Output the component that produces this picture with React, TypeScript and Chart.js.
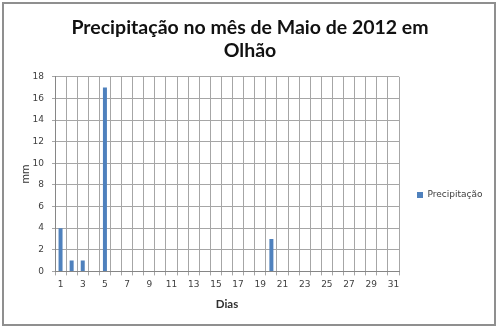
import React, { useEffect, useRef } from "react";
import { Chart, registerables } from "chart.js";

Chart.register(...registerables);

const days: string[] = Array.from({ length: 31 }, (_, i) => String(i + 1));
const precipitacao: number[] = [
  4, 1, 1, 0, 17, 0, 0, 0, 0, 0,
  0, 0, 0, 0, 0, 0, 0, 0, 0, 3,
  0, 0, 0, 0, 0, 0, 0, 0, 0, 0, 0,
];
const titleLines: string[] = ["Precipitação no mês de Maio de 2012 em", "Olhão"];
const seriesName = "Precipitação";
const yTitle = "mm";
const xTitle = "Dias";

const framePlugin = {
  id: "frame",
  beforeDraw(chart: any) {
    const { ctx, width, height } = chart;
    ctx.save();
    ctx.fillStyle = "#ffffff";
    ctx.fillRect(0, 0, width, height);
    ctx.strokeStyle = "#8f8f8f";
    ctx.lineWidth = 2;
    ctx.strokeRect(3, 3, width - 8, height - 6);
    ctx.restore();
  },
};

const legendShift = {
  id: "legendShift",
  afterLayout(chart: any) {
    const l = chart.legend;
    if (!l) return;
    const d = 195 - (l.top + l.bottom) / 2;
    l.top += d;
    l.bottom += d;
  },
};

export default function App() {
  const ref = useRef<HTMLCanvasElement | null>(null);
  useEffect(() => {
    document.body.style.margin = "0";
    const chart = new Chart(ref.current!, {
      type: "bar",
      data: {
        labels: days,
        datasets: [
          {
            label: seriesName,
            data: precipitacao,
            backgroundColor: "#4F81BD",
            borderWidth: 0,
            barPercentage: 0.4,
            categoryPercentage: 0.9,
          },
        ],
      },
      options: {
        animation: false,
        responsive: false,
        devicePixelRatio: 1,
        layout: { padding: { left: 12, right: 12, top: 0, bottom: 15 } },
        plugins: {
          title: {
            display: true,
            text: titleLines,
            color: "#111111",
            font: { family: "Lato", size: 19.5, weight: "bold", lineHeight: 1.2 },
            padding: { top: 16, bottom: 14 },
          },
          legend: {
            position: "right",
            fullSize: false,
            maxWidth: 89,
            labels: {
              boxWidth: 6,
              boxHeight: 6,
              padding: 18,
              color: "#404040",
              font: { family: "DejaVu Sans", size: 9 },
            },
          },
          tooltip: { enabled: false },
        },
        scales: {
          x: {
            grid: {
              color: "#a6a6a6",
              offset: true,
              tickLength: 4,
            },
            border: { color: "#868686" },
            ticks: {
              autoSkip: false,
              maxRotation: 0,
              color: "#404040",
              font: { family: "DejaVu Sans", size: 9 },
              padding: 4,
              callback: (_v: any, i: number) => (i % 2 === 0 ? days[i] : ""),
            },
            title: {
              display: true,
              text: xTitle,
              color: "#303030",
              font: { family: "Lato", size: 11.5, weight: "bold" },
              padding: { top: 3, bottom: 2 },
            },
          },
          y: {
            min: 0,
            max: 18,
            afterFit: (scale: any) => {
              scale.width = 43;
            },
            grid: { color: "#a6a6a6", tickLength: 3 },
            border: { color: "#868686" },
            ticks: {
              stepSize: 2,
              color: "#404040",
              font: { family: "DejaVu Sans", size: 9 },
              padding: 8,
            },
            title: {
              display: true,
              text: yTitle,
              color: "#303030",
              font: { family: "Lato", size: 11.5 },
              padding: { top: 6, bottom: 0 },
            },
          },
        },
      },
      plugins: [framePlugin, legendShift],
    });
    return () => chart.destroy();
  }, []);
  return (
    <div style={{ position: "absolute", left: 0, top: 0, width: 500, height: 328 }}>
      <canvas ref={ref} width={500} height={328} />
    </div>
  );
}
